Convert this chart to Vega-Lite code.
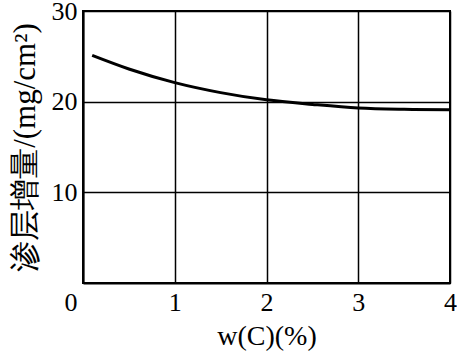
{
  "$schema": "https://vega.github.io/schema/vega-lite/v6.json",
  "autosize": {"type": "none"},
  "padding": {"left": 83, "top": 11, "right": 7, "bottom": 71},
  "width": 367,
  "height": 272,
  "background": "white",
  "config": {
    "view": {"stroke": "black", "strokeWidth": 2},
    "font": "Liberation Serif",
    "axis": {
      "labelFont": "Liberation Serif",
      "titleFont": "Liberation Serif",
      "labelColor": "black",
      "titleColor": "black",
      "labelFontSize": 26,
      "titleFontSize": 27,
      "titleFontWeight": "normal",
      "grid": true,
      "gridColor": "black",
      "gridWidth": 1.5,
      "gridOpacity": 1,
      "domainColor": "black",
      "domainWidth": 2,
      "ticks": false
    }
  },
  "data": {
    "values": [
      {"c": 0.1, "v": 25.1},
      {"c": 0.5, "v": 23.6},
      {"c": 1.0, "v": 22.1},
      {"c": 1.5, "v": 21.0},
      {"c": 2.0, "v": 20.2},
      {"c": 2.5, "v": 19.7},
      {"c": 3.0, "v": 19.3},
      {"c": 3.5, "v": 19.15},
      {"c": 4.0, "v": 19.1}
    ]
  },
  "mark": {"type": "line", "color": "black", "strokeWidth": 3, "interpolate": "monotone"},
  "encoding": {
    "x": {
      "field": "c", "type": "quantitative",
      "scale": {"domain": [0, 4], "nice": false},
      "axis": {
        "values": [0, 1, 2, 3, 4],
        "title": "w(C)(%)",
        "titleFontSize": 28,
        "labelPadding": 6,
        "titlePadding": 7,
        "labelAlign": {"expr": "datum.value == 0 ? 'right' : 'center'"},
        "labelOffset": {"expr": "datum.value == 0 ? -6 : 0"},
        "labelFlush": false
      }
    },
    "y": {
      "field": "v", "type": "quantitative",
      "scale": {"domain": [0, 30], "nice": false},
      "axis": {
        "values": [10, 20, 30],
        "title": "渗层增量/(mg/cm²)",
        "titleFontSize": 31,
        "labelPadding": 6,
        "titlePadding": 10,
        "labelFlush": false
      }
    }
  }
}
